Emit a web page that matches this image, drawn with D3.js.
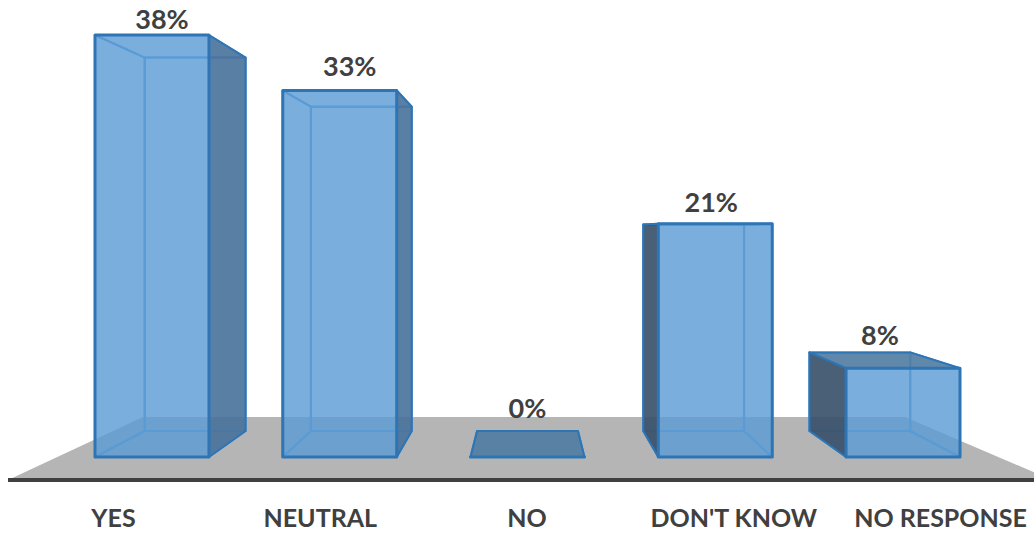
<!DOCTYPE html>
<html>
<head>
<meta charset="utf-8">
<style>
  html, body { margin: 0; padding: 0; background: #fff; }
  svg { display: block; }
  text { font-family: Lato, "Open Sans", sans-serif; font-weight: 700; fill: #404040; font-size: 27px; }
</style>
</head>
<body>
<svg id="chart" width="1034" height="533"></svg>
<script src="https://cdnjs.cloudflare.com/ajax/libs/d3/7.8.5/d3.min.js"></script>
<script>
const categories = ["YES", "NEUTRAL", "NO", "DON'T KNOW", "NO RESPONSE"];
const percents = [38, 33, 0, 21, 8];

// Camera set-up of the 3D box columns
const vanish = { x: 527.5, y: 231 };
const depthScale = 0.885;
const floorY = 457;

const x = d3.scaleBand().domain(categories).range([95, 960]).paddingInner(0.393);
const y = d3.scaleLinear().domain([0, 38]).range([floorY, 35]);
const axisX = d3.scalePoint().domain(categories).range([113, 940]);

// Per-column placement of the value labels relative to the box centre
const labelShift = [
  { dx: 10, dy: -13 }, { dx: 10, dy: -21 }, { dx: 0, dy: -20 },
  { dx: -4, dy: -19 }, { dx: -23, dy: -14 }
];

const svg = d3.select("#chart");

const colors = {
  hidden: "#5b9bd5",
  right: "#476d94",
  left: "#33465b",
  top: "#4f789b",
  edge: "#2e75b6",
  backEdge: "#5b9bd5"
};

// Pushes a front-plane point back onto the rear plane of the box
const rear = ([px, py]) => [
  vanish.x + (px - vanish.x) * depthScale,
  vanish.y + (py - vanish.y) * depthScale
];
const line = d3.line().curve(d3.curveLinearClosed);

// Floor and baseline
svg.append("path")
  .attr("d", line([[143, 417], [905, 417], [1052, 480], [8, 480]]))
  .attr("fill", "#b5b5b5");
svg.append("line")
  .attr("x1", 8).attr("x2", 1034).attr("y1", 480).attr("y2", 480)
  .attr("stroke", "#404040").attr("stroke-width", 4);

// One group per column, with faces painted from the back to the front
const boxes = svg.selectAll("g.box")
  .data(categories.map((name, i) => ({ name, value: percents[i], i })))
  .join("g")
  .attr("class", "box");

boxes.each(function (d) {
  const g = d3.select(this);
  const x0 = x(d.name), x1 = x0 + x.bandwidth();
  const yt = y(d.value);
  const tl = [x0, yt], tr = [x1, yt], bl = [x0, floorY], br = [x1, floorY];
  const [rtl, rtr, rbr, rbl] = [tl, tr, br, bl].map(rear);

  const showLeft = rtl[0] < x0;
  const showRight = rtr[0] > x1;
  const showTop = rtl[1] < yt;

  const face = (pts, fill, opacity, stroke, width) =>
    g.append("path")
      .attr("d", line(pts))
      .attr("fill", fill)
      .attr("fill-opacity", opacity)
      .attr("stroke", stroke)
      .attr("stroke-width", width)
      .attr("stroke-linejoin", "round");

  // Inner faces, seen through the translucent front
  face([rtl, rtr, rbr, rbl], colors.hidden, 0.56, colors.backEdge, 2);
  face([bl, br, rbr, rbl], colors.hidden, 0.56, colors.backEdge, 2);
  if (!showLeft) face([tl, rtl, rbl, bl], colors.hidden, 0.56, colors.backEdge, 2);
  if (!showRight) face([tr, rtr, rbr, br], colors.hidden, 0.56, colors.backEdge, 2);
  if (!showTop) face([tl, tr, rtr, rtl], colors.hidden, 0.56, colors.backEdge, 2);

  // Outer faces, turned towards the viewer and shaded darker
  if (showLeft) face([tl, rtl, rbl, bl], colors.left, 0.8, colors.edge, 2);
  if (showRight) face([tr, rtr, rbr, br], colors.right, 0.8, colors.edge, 2);
  if (showTop) face([tl, tr, rtr, rtl], colors.top, 0.8, colors.edge, 2);

  face([tl, tr, br, bl], colors.hidden, 0.56, colors.edge, 3);

  // Value label above the box
  const shift = labelShift[d.i];
  const cx = (x0 + x1) / 2;
  const topEdge = Math.min(yt, rtl[1]);
  g.append("text")
    .attr("x", cx + shift.dx)
    .attr("y", topEdge + shift.dy)
    .attr("text-anchor", "middle")
    .attr("dominant-baseline", "middle")
    .text(d3.format(".0%")(d.value / 100));
});

// Category labels along the baseline
const axis = svg.append("g")
  .attr("transform", "translate(0,518)")
  .call(d3.axisBottom(axisX).tickSize(0).tickPadding(0));
axis.select(".domain").remove();
axis.selectAll("text")
  .attr("y", 0).attr("dy", "0.35em")
  .style("font-family", "Lato, 'Open Sans', sans-serif")
  .style("font-size", "25px")
  .attr("fill", "#404040");
</script>
</body>
</html>
